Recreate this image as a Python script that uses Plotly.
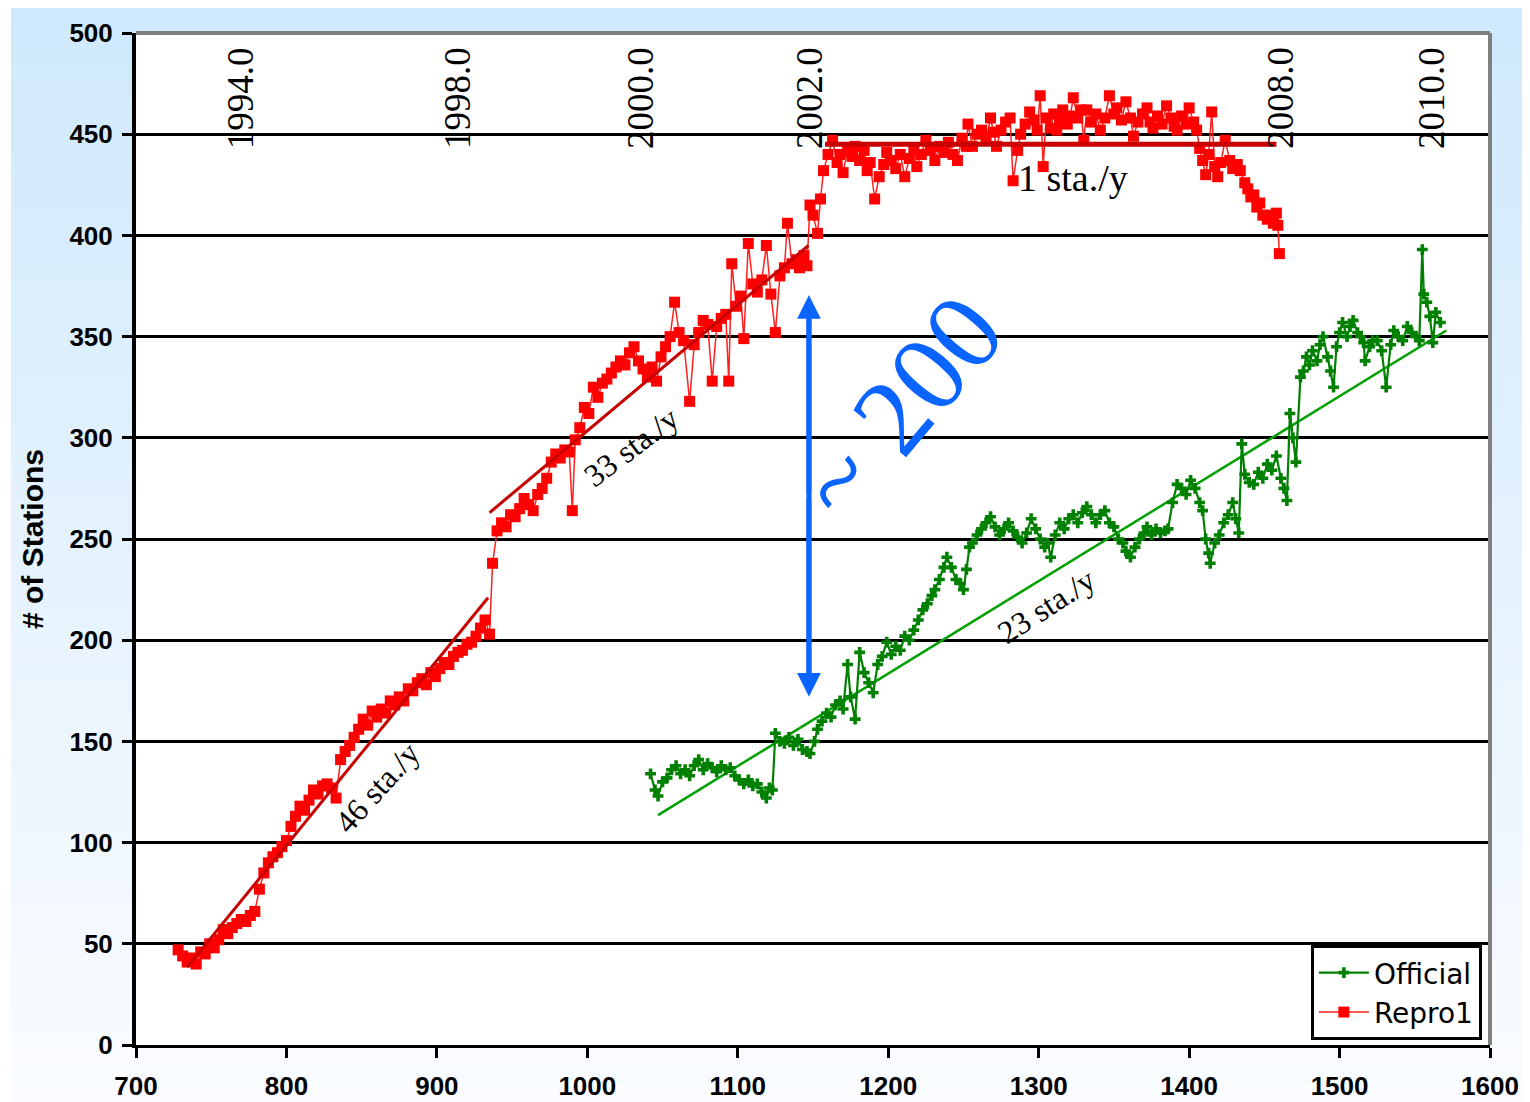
import plotly.graph_objects as go

# ---------------- data ----------------
repro_weeks = [728, 731, 734, 737, 740, 743, 746, 749, 752, 755, 758, 761, 764, 767, 770, 773, 776, 779,
               782, 785, 788, 791, 794, 797, 800, 803, 806, 809, 812, 815, 818, 821, 824, 827, 830, 833,
               836, 839, 842, 845, 848, 851, 854, 857, 860, 863, 866, 869, 872, 875, 878, 881, 884, 887,
               890, 893, 896, 899, 902, 905, 908, 911, 914, 917, 920, 923, 926, 929, 932, 935, 937, 940,
               943, 946, 949, 952, 955, 958, 961, 964, 967, 970, 973, 976, 979, 982, 985, 988, 990, 992,
               995, 998, 1001, 1004, 1007, 1010, 1013, 1016, 1019, 1022, 1025, 1028, 1031, 1034, 1037,
               1040, 1043, 1046, 1049, 1052, 1055, 1058, 1061, 1064, 1068, 1071, 1074, 1077, 1080, 1083,
               1086, 1089, 1092, 1094, 1096, 1099, 1102, 1104, 1107, 1110, 1113, 1116, 1119, 1122, 1125,
               1128, 1131, 1133, 1136, 1139, 1141, 1144, 1146, 1148, 1150, 1153, 1155, 1157, 1160, 1163,
               1166, 1168, 1170, 1173, 1176, 1178, 1181, 1184, 1186, 1188, 1191, 1194, 1197, 1199, 1202,
               1205, 1208, 1211, 1214, 1217, 1219, 1222, 1225, 1228, 1231, 1234, 1237, 1240, 1243, 1246,
               1249, 1252, 1253, 1256, 1259, 1262, 1265, 1268, 1270, 1272, 1275, 1278, 1281, 1283, 1286,
               1288, 1291, 1294, 1297, 1299, 1301, 1303, 1305, 1308, 1310, 1312, 1314, 1316, 1319, 1321,
               1323, 1326, 1328, 1330, 1332, 1335, 1338, 1341, 1344, 1347, 1350, 1352, 1355, 1358, 1361,
               1363, 1366, 1369, 1372, 1374, 1376, 1379, 1382, 1385, 1388, 1390, 1392, 1395, 1398, 1400,
               1403, 1405, 1407, 1409, 1411, 1413, 1415, 1417, 1419, 1421, 1424, 1427, 1429, 1432, 1434,
               1437, 1439, 1441, 1443, 1445, 1447, 1449, 1452, 1454, 1456, 1458, 1459, 1460]
repro_counts = [47, 44, 41, 43, 40, 46, 45, 50, 48, 52, 57, 55, 58, 60, 62, 61, 64, 66,
                77, 85, 90, 93, 95, 98, 101, 108, 113, 118, 116, 121, 126, 124, 128, 129, 127, 122,
                141, 145, 148, 152, 156, 161, 158, 165, 162, 166, 164, 170, 168, 172, 170, 176, 175, 179,
                181, 178, 184, 182, 186, 189, 188, 192, 194, 195, 198, 199, 202, 206, 210, 203, 238, 254,
                258, 256, 262, 261, 265, 270, 267, 264, 272, 275, 280, 288, 292, 290, 294, 293, 264, 299,
                305, 315, 312, 325, 320, 327, 329, 332, 335, 338, 336, 342, 345, 338, 334,
                330, 335, 328, 340, 345, 350, 367, 352, 348, 318, 346, 352, 358, 356, 328,
                355, 359, 361, 328, 386, 365, 370, 349, 396, 376, 372, 378, 395, 371, 352,
                380, 384, 406, 386, 388, 384, 390, 385, 415, 410, 401, 418, 432, 440, 447,
                436, 440, 431, 442, 439, 444, 437, 442, 432, 436, 418, 429, 435, 441, 437,
                433, 440, 429, 438, 442, 434, 440, 447, 442, 437, 444, 441, 446, 440, 437,
                448, 444, 455, 444, 450, 452, 447, 458, 451, 444, 452, 456, 458, 427, 442,
                450, 455, 461, 457, 452, 469, 434, 458, 453, 460, 452, 457, 462, 455, 459,
                468, 458, 462, 447, 462, 456, 460, 452, 458, 469, 460, 463, 457, 466, 458,
                449, 456, 460, 463, 456, 453, 459, 455, 464, 458, 454, 452, 459, 455, 463,
                456, 452, 443, 437, 430, 440, 461, 434, 429, 436, 447, 437, 433, 435, 432,
                426, 423, 419, 420, 414, 416, 410, 408, 410, 406, 411, 405, 391]

official_weeks = [1042, 1045, 1047, 1050, 1053, 1056, 1059, 1062, 1065, 1068, 1071, 1074, 1077, 1080,
                  1083, 1086, 1089, 1092, 1095, 1098, 1101, 1104, 1107, 1110, 1113, 1116, 1119, 1121,
                  1123, 1125, 1128, 1131, 1134, 1137, 1140, 1143, 1146, 1148, 1151, 1153, 1156, 1159,
                  1162, 1165, 1168, 1170, 1173, 1175, 1178, 1181, 1184, 1187, 1190, 1193, 1196, 1199,
                  1202, 1205, 1208, 1211, 1214, 1217, 1220, 1223, 1226, 1229, 1231, 1234, 1237, 1239,
                  1242, 1245, 1248, 1250, 1252, 1254, 1256, 1259, 1262, 1265, 1268, 1271, 1274, 1277,
                  1280, 1283, 1286, 1289, 1292, 1295, 1298, 1301, 1304, 1306, 1308, 1311, 1314, 1317,
                  1320, 1323, 1326, 1329, 1332, 1335, 1338, 1341, 1344, 1347, 1350, 1353, 1356, 1358,
                  1361, 1364, 1367, 1370, 1372, 1375, 1378, 1381, 1384, 1386, 1389, 1392, 1395, 1398,
                  1401, 1404, 1407, 1409, 1411, 1413, 1414, 1417, 1420, 1423, 1426, 1429, 1431, 1433,
                  1435, 1437, 1440, 1443, 1446, 1449, 1452, 1455, 1458, 1461, 1463, 1465, 1467, 1469,
                  1471, 1474, 1476, 1478, 1480, 1482, 1485, 1487, 1489, 1492, 1494, 1496, 1498, 1500,
                  1502, 1505, 1507, 1509, 1512, 1514, 1516, 1517, 1520, 1522, 1525, 1528, 1531, 1534,
                  1536, 1539, 1542, 1545, 1548, 1551, 1553, 1555, 1556, 1558, 1560, 1562, 1564, 1567]
official_counts = [134, 126, 123, 130, 132, 136, 138, 134, 136, 133, 138, 141, 136, 139,
                   137, 135, 138, 136, 137, 133, 131, 129, 131, 128, 129, 125, 122, 127,
                   126, 154, 150, 149, 152, 148, 151, 146, 145, 144, 150, 156, 160, 164,
                   162, 168, 170, 166, 188, 172, 161, 194, 184, 179, 174, 188, 192, 199,
                   193, 197, 195, 202, 200, 205, 210, 215, 218, 222, 225, 230, 236, 241,
                   236, 230, 228, 225, 235, 246, 248, 252, 255, 258, 261, 256, 252, 255,
                   258, 254, 251, 248, 253, 260, 255, 250, 246, 248, 241, 252, 258, 255,
                   260, 262, 258, 263, 266, 262, 258, 262, 264, 258, 256, 250, 248, 244,
                   241, 246, 250, 253, 256, 252, 255, 253, 254, 255, 268, 277, 275, 272,
                   279, 275, 268, 264, 250, 243, 238, 248, 252, 258, 262, 268, 260, 253,
                   297, 282, 278, 277, 283, 280, 287, 284, 291, 280, 275, 269, 312, 300,
                   288, 330, 333, 340, 336, 343, 338, 346, 350, 340, 333, 325, 345, 352,
                   357, 350, 355, 358, 352, 350, 347, 338, 345, 348, 348, 343, 325, 346,
                   353, 350, 348, 355, 352, 350, 348, 393, 371, 367, 360, 347, 362, 357]

trend46_x, trend46_y = [734, 934], [38.5, 221]
trend33_x, trend33_y = [935, 1147], [263, 395]
trend1_x, trend1_y = [1158, 1458], [445, 445]
trend23_x, trend23_y = [1047, 1571], [113.6, 353]

year_labels = ["1994.0", "1998.0", "2000.0", "2002.0", "2008.0", "2010.0"]
year_weeks = [770, 914, 1035.7, 1148, 1461, 1561.5]

rate_labels = ["46 sta./y", "33 sta./y", "23 sta./y"]
rate_x = [860, 1029, 1305]
rate_y = [127, 295.5, 217]
rate_angle = [-48, -37, -33]

gap_week = 1147.3
gap_top, gap_bottom = 370.5, 172

# ---------------- figure ----------------
# page body has an 8px margin, so the figure is placed at (8, 8) in the window
W, H = 1522, 1094
L, R, T, B = 128, 40, 25, 57
px_w = W - L - R
px_h = H - T - B

fig = go.Figure()

fig.add_trace(go.Scatter(x=trend23_x, y=trend23_y, mode="lines",
                         line=dict(color="#00a000", width=2.5), showlegend=False, hoverinfo="skip"))
fig.add_trace(go.Scatter(x=official_weeks, y=official_counts, mode="lines+markers", name="Official",
                         line=dict(color="#008000", width=2.2),
                         marker=dict(symbol="cross", size=9, color="#008000")))
fig.add_trace(go.Scatter(x=repro_weeks, y=repro_counts, mode="lines+markers", name="Repro1",
                         line=dict(color="#ff2020", width=1.5),
                         marker=dict(symbol="square", size=11, color="#ff0000")))
for tx, ty, w in [(trend46_x, trend46_y, 3), (trend33_x, trend33_y, 3), (trend1_x, trend1_y, 5)]:
    fig.add_trace(go.Scatter(x=tx, y=ty, mode="lines", line=dict(color="#c80000", width=w),
                             showlegend=False, hoverinfo="skip"))

shapes = []
# background gradient (paper)
n = 60
top_c = (207, 233, 252)
bot_c = (250, 252, 255)
y_start = 0
x_start = 3
for i in range(n):
    f = i / (n - 1)
    c = tuple(int(round(top_c[k] + (bot_c[k] - top_c[k]) * f)) for k in range(3))
    py0 = y_start + (H - y_start) * i / n
    py1 = y_start + (H - y_start) * (i + 1) / n + 1
    shapes.append(dict(type="rect", xref="paper", yref="paper",
                       x0=(x_start - L) / px_w, x1=(W - L) / px_w,
                       y0=(H - B - py1) / px_h, y1=(H - B - py0) / px_h,
                       fillcolor="rgb(%d,%d,%d)" % c, line=dict(width=0), layer="below"))
shapes.append(dict(type="rect", xref="paper", yref="paper", x0=0, x1=1, y0=0, y1=1,
                   fillcolor="white", line=dict(width=0), layer="below"))
# gray top/right frame
shapes.append(dict(type="line", xref="paper", yref="paper", x0=0, x1=1, y0=1, y1=1,
                   line=dict(color="#808080", width=4), layer="above"))
shapes.append(dict(type="line", xref="paper", yref="paper", x0=1, x1=1, y0=0, y1=1,
                   line=dict(color="#808080", width=4), layer="above"))
# shaft of the blue double arrow
shapes.append(dict(type="line", xref="x", yref="y", x0=gap_week, x1=gap_week,
                   y0=gap_bottom + 10, y1=gap_top - 10,
                   line=dict(color="#0a64ff", width=5), layer="above"))

annotations = []
for lab, wk in zip(year_labels, year_weeks):
    annotations.append(dict(x=wk, y=467.9, xref="x", yref="y", text=lab, showarrow=False,
                            textangle=-90, font=dict(family="Liberation Serif", size=37, color="black")))
for lab, xx, yy, ang in zip(rate_labels, rate_x, rate_y, rate_angle):
    annotations.append(dict(x=xx, y=yy, xref="x", yref="y", text=lab, showarrow=False,
                            textangle=ang, font=dict(family="Liberation Serif", size=32, color="black")))
annotations.append(dict(x=1323, y=428.4, xref="x", yref="y", text="1 sta./y", showarrow=False,
                        font=dict(family="Liberation Serif", size=38, color="black")))
annotations.append(dict(x=1208, y=315, xref="x", yref="y", text="~ 200", showarrow=False,
                        textangle=-50, font=dict(family="Liberation Serif", size=110, color="#0a64ff")))
gap_mid = (gap_top + gap_bottom) / 2
for tip in (gap_top, gap_bottom):
    annotations.append(dict(x=gap_week, y=tip, ax=gap_week, ay=gap_mid, xref="x", yref="y",
                            axref="x", ayref="y", text="", showarrow=True, arrowhead=2,
                            arrowsize=0.95, arrowwidth=5, arrowcolor="#0a64ff"))
annotations.append(dict(x=(24 - L) / px_w, y=0.5, xref="paper", yref="paper", text="# of Stations",
                        showarrow=False, textangle=-90, xanchor="center", yanchor="middle",
                        font=dict(family="Arial, Liberation Sans", size=30, color="black", weight="bold")))

tickfont = dict(family="Arial, Liberation Sans", size=26, color="black", weight="bold")
fig.update_layout(
    width=W, height=H,
    margin=dict(l=L, r=R, t=T, b=B, pad=0, autoexpand=False),
    paper_bgcolor="white", plot_bgcolor="white",
    shapes=shapes, annotations=annotations,
    xaxis=dict(range=[700, 1600], dtick=100, tick0=700, showgrid=False, zeroline=False,
               showline=True, linecolor="black", linewidth=3, ticks="outside", ticklen=10,
               tickwidth=3, tickcolor="black", tickfont=tickfont, ticklabelstandoff=6,
               automargin=False),
    yaxis=dict(range=[0, 500], dtick=50, tick0=0, showgrid=True, gridcolor="black", gridwidth=3,
               zeroline=False, showline=True, linecolor="black", linewidth=4, ticks="outside",
               ticklen=10, tickwidth=3, tickcolor="black", tickfont=tickfont, ticklabelstandoff=4,
               automargin=False),
    legend=dict(x=0.994, y=0.005, xanchor="right", yanchor="bottom", bgcolor="white",
                bordercolor="black", borderwidth=3,
                font=dict(family="DejaVu Sans", size=28, color="black"),
                tracegroupgap=4, itemwidth=50),
    showlegend=True,
)

fig.write_html("out.html")
